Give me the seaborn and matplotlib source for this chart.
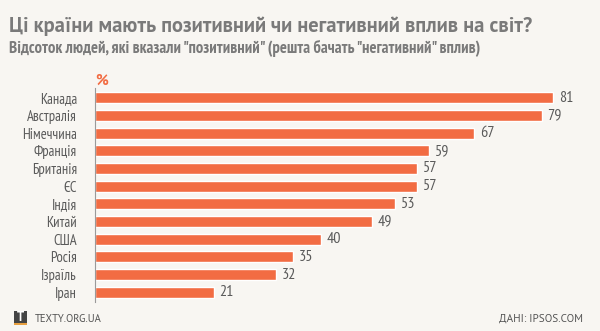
import matplotlib
matplotlib.use("Agg")
import matplotlib.pyplot as plt
import seaborn as sns
import pandas as pd
from matplotlib.patches import Rectangle

countries = ["Канада", "Австралія", "Німеччина", "Франція", "Британія", "ЄС",
             "Індія", "Китай", "США", "Росія", "Ізраїль", "Іран"]
values = [81, 79, 67, 59, 57, 57, 53, 49, 40, 35, 32, 21]

title = "Ці країни мають позитивний чи негативний вплив на світ?"
subtitle = 'Відсоток людей, які вказали "позитивний" (решта бачать "негативний" вплив)'

sns.set_style("white")
plt.rcParams['font.family'] = ['PT Sans Narrow', 'DejaVu Sans']

BG = "#f8f6f2"
BAR = "#f26c43"
GREY = "#6f6f6f"
W, H = 600, 331
NARROW = ["PT Sans Narrow", "DejaVu Sans"]
PTS = ["PT Sans", "DejaVu Sans"]

df = pd.DataFrame({"country": countries, "value": values})

fig = plt.figure(figsize=(6, 3.31), dpi=100, facecolor=BG)
renderer = fig.canvas.get_renderer()


def fit_text(x0, x1, yc, s, family, weight="normal", color=GREY, ha="left"):
    t = fig.text(x0 / W if ha == "left" else x1 / W, 1 - yc / H, s, fontsize=10,
                 family=family, fontweight=weight, color=color, va="center", ha=ha)
    w = t.get_window_extent(renderer).width
    t.set_fontsize(10 * (x1 - x0) / w)
    return t


ax = fig.add_axes([95 / W, 1 - 302 / H, 500 / W, 214 / H])
ax.set_facecolor(BG)

sns.barplot(data=df, x="value", y="country", color=BAR, width=0.62,
            saturation=1, ax=ax, orient="h")

ax.set_xlim(0, 500 / 5.654)
ax.set_ylim(11.55, -0.55)
ax.set_xlabel("")
ax.set_ylabel("")
ax.set_xticks([])
for s in ["top", "right", "bottom"]:
    ax.spines[s].set_visible(False)
ax.spines["left"].set_color("#9a9a9a")
ax.spines["left"].set_linewidth(0.8)

lab_size = 10.5
val_size = 11.5
ax.tick_params(axis="y", length=3, color="#c8c8c8", width=0.8, pad=10,
               labelsize=lab_size, labelcolor="#5a5a5a")
for lbl in ax.get_yticklabels():
    lbl.set_family(NARROW)

for i, v in enumerate(values):
    ax.text(v + 1.05, i, str(v), va="center", ha="left", fontsize=val_size,
            color="#5a5a5a", family=NARROW)

fit_text(9, 535, 26, title, PTS, weight="bold", color="#7a7a7a")
fit_text(9, 480, 48, subtitle, NARROW, weight="bold", color="#7a7a7a")
fig.text(95 / W, 1 - 81 / H, "%", fontsize=11, fontweight="bold", color=BAR,
         va="center", ha="left", family=PTS)

# footer
fig.patches.append(Rectangle((14 / W, 1 - 325 / H), 13 / W, 14 / H,
                             transform=fig.transFigure, facecolor="#444444",
                             edgecolor="none"))
fig.patches.append(Rectangle((14 / W, 1 - 325 / H), 13 / W, 2 / H,
                             transform=fig.transFigure, facecolor="#e8a040",
                             edgecolor="none"))
fig.text(20.5 / W, 1 - 317.5 / H, "T", fontsize=9, fontweight="bold", color="white",
         va="center", ha="center", family=PTS)
fit_text(35, 102, 319, "TEXTY.ORG.UA", PTS, color="#555555")
fit_text(500, 583, 319, "ДАНІ: IPSOS.COM", PTS, color="#555555", ha="right")

fig.savefig("out.png", dpi=100, facecolor=BG)
